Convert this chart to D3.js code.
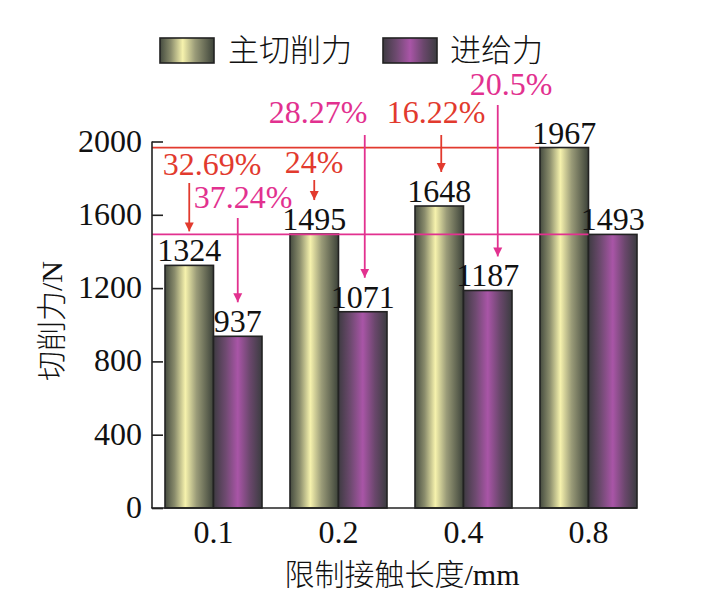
<!DOCTYPE html>
<html><head><meta charset="utf-8">
<script src="https://cdn.jsdelivr.net/npm/d3@7"></script>
<style>body{margin:0;background:#fff}svg{display:block}</style>
</head><body>
<svg id="c" width="709" height="612"></svg>
<script>
const categories = ['0.1','0.2','0.4','0.8'];
const mainForce = [1324,1495,1648,1967];
const feedForce = [937,1071,1187,1493];
const mainReduction = ['32.69%','24%','16.22%'];
const feedReduction = ['37.24%','28.27%','20.5%'];
const yTicks = [0,400,800,1200,1600,2000];
const seriesNames = ['主切削力','进给力'];

// annotation layout (label centre x, baseline y, arrow start y, arrow x offset)
const mainAnnLayout = [{tx:212,ty:175,sy:183,dx:0},{tx:314,ty:173,sy:180,dx:0},{tx:436,ty:123,sy:135,dx:2}];
const feedAnnLayout = [{tx:243,ty:208,sy:218,dx:0},{tx:318,ty:123,sy:135,dx:2},{tx:511,ty:95,sy:105,dx:10}];

const RED='#e23a2e', PINK='#e2318f';
const FONT="'Liberation Serif','Times New Roman','Noto Sans CJK SC',serif";
const svg=d3.select('#c');
const defs=svg.append('defs');
function grad(id,stops){
  const g=defs.append('linearGradient').attr('id',id).attr('x1','0').attr('x2','1').attr('y1','0').attr('y2','0');
  stops.forEach(s=>g.append('stop').attr('offset',s[0]).attr('stop-color',s[1]));
}
grad('gMain',[[0,'#454b3f'],[0.2,'#8a8c6c'],[0.42,'#f6f2ad'],[0.65,'#9a9b78'],[1,'#3c4239']]);
grad('gFeed',[[0,'#3e3b42'],[0.25,'#6e4a70'],[0.5,'#a955a7'],[0.75,'#6a476c'],[1,'#3b3c40']]);
const fills=['url(#gMain)','url(#gFeed)'];
const arrowColors=[RED,PINK];
[['aRed',RED],['aPink',PINK]].forEach(([id,c])=>{
  defs.append('marker').attr('id',id).attr('viewBox','0 0 10 10').attr('refX',10).attr('refY',5)
   .attr('markerWidth',9).attr('markerHeight',10).attr('markerUnits','userSpaceOnUse').attr('orient','auto')
   .append('path').attr('d','M0,0L10,5L0,10z').attr('fill',c);
});

const x0=d3.scaleBand().domain(categories).range([151,651]).paddingInner(0.224).paddingOuter(0.112);
const x1=d3.scaleBand().domain([0,1]).range([0,x0.bandwidth()]);
const y=d3.scaleLinear().domain([0,2000]).range([508,141.5]);

// reference lines
svg.append('line').attr('x1',152).attr('x2',x0('0.8')).attr('y1',y(mainForce[3])).attr('y2',y(mainForce[3]))
  .attr('stroke',RED).attr('stroke-width',1.8);

// bars
const data=categories.map((c,i)=>({c,v:[mainForce[i],feedForce[i]]}));
const g=svg.append('g');
data.forEach(d=>{
  d.v.forEach((v,k)=>{
    g.append('rect').attr('x',x0(d.c)+x1(k)).attr('width',x1.bandwidth()).attr('y',y(v)).attr('height',y(0)-y(v))
     .attr('fill',fills[k]).attr('stroke','#222').attr('stroke-width',1.6);
    g.append('text').attr('x',x0(d.c)+x1(k)+x1.bandwidth()/2).attr('y',y(v)-4).attr('text-anchor','middle')
     .attr('font-family',FONT).attr('font-size',32).attr('fill','#111').text(v);
  });
});
svg.append('line').attr('x1',152).attr('x2',x0('0.8')+x1(1)).attr('y1',y(feedForce[3])).attr('y2',y(feedForce[3]))
  .attr('stroke',PINK).attr('stroke-width',1.8);

// axes
const ya=svg.append('g').attr('transform','translate(152,0)').call(d3.axisRight(y).tickValues(yTicks).tickSize(11).tickFormat(''));
ya.select('.domain').attr('stroke','#222').attr('stroke-width',1.6).attr('d','M0,'+y(2000)+'V'+y(0));
ya.selectAll('.tick line').attr('stroke','#222').attr('stroke-width',1.6);
yTicks.forEach(t=>svg.append('text').attr('x',142).attr('y',y(t)+10).attr('text-anchor','end')
  .attr('font-family',FONT).attr('font-size',32).attr('fill','#111').text(t));
svg.append('line').attr('x1',151.2).attr('x2',x0('0.8')+x0.bandwidth()).attr('y1',y(0)).attr('y2',y(0))
  .attr('stroke','#222').attr('stroke-width',1.6);
categories.forEach(c=>svg.append('text').attr('x',x0(c)+x0.bandwidth()/2).attr('y',543).attr('text-anchor','middle')
  .attr('font-family',FONT).attr('font-size',32).attr('fill','#111').text(c));

svg.append('text').attr('x',402).attr('y',585).attr('text-anchor','middle').attr('font-family',FONT)
  .attr('font-size',30).attr('font-weight',300).attr('fill','#111').text('限制接触长度/mm');
svg.append('text').attr('transform','translate(62,321) rotate(-90)').attr('text-anchor','middle').attr('font-family',FONT)
  .attr('font-size',30).attr('font-weight',300).attr('fill','#111').text('切削力/N');

// annotations
function ann(labels,layout,vals,k){
  labels.forEach((lab,i)=>{
    const L=layout[i];
    const ax=x0(categories[i])+x1(k)+x1.bandwidth()/2+L.dx;
    svg.append('text').attr('x',L.tx).attr('y',L.ty).attr('text-anchor','middle').attr('font-family',FONT)
      .attr('font-size',32).attr('fill',arrowColors[k]).text(lab);
    svg.append('line').attr('x1',ax).attr('x2',ax).attr('y1',L.sy).attr('y2',y(vals[i])-34)
      .attr('stroke',arrowColors[k]).attr('stroke-width',1.8).attr('marker-end',k?'url(#aPink)':'url(#aRed)');
  });
}
ann(mainReduction,mainAnnLayout,mainForce,0);
ann(feedReduction,feedAnnLayout,feedForce,1);

// legend
const leg=[{x:160,tx:228},{x:383,tx:450}];
leg.forEach((l,k)=>{
  svg.append('rect').attr('x',l.x).attr('y',38).attr('width',54).attr('height',25).attr('fill',fills[k])
    .attr('stroke','#222').attr('stroke-width',1.6);
  svg.append('text').attr('x',l.tx).attr('y',61).attr('font-family',FONT).attr('font-size',31).attr('font-weight',300)
    .attr('fill','#111').text(seriesNames[k]);
});
</script>
</body></html>
